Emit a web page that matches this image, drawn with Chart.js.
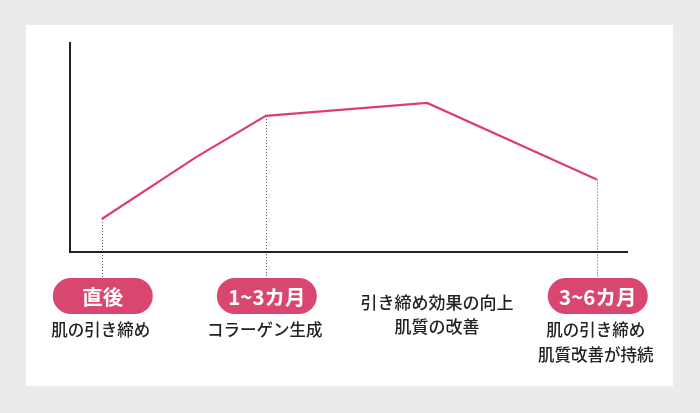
<!DOCTYPE html>
<html><head><meta charset="utf-8">
<script src="https://cdn.jsdelivr.net/npm/chart.js@4"></script>
<style>
html,body{margin:0;padding:0;background:#ebebeb;}
#wrap{width:700px;height:413px;position:relative;}
</style></head>
<body><div id="wrap"><canvas id="c" width="700" height="413"></canvas></div>
<script>
// time axis (arbitrary units) and effect level
const timeValues = [5.7, 22.6, 35.1, 64.0, 94.4];
const effectValues = [15.7, 45.2, 64.8, 71.0, 34.5];
// milestones: index of point, pill label, caption lines
const milestoneIndex = [0, 2, 4];
const pillLabels = ['直後', '1~3カ月', '3~6カ月'];
const captionLines = [['肌の引き締め'], ['コラーゲン生成'], ['肌の引き締め', '肌質改善が持続']];
const middleIndex = 3;
const middleLines = ['引き締め効果の向上', '肌質の改善'];

const FONT = '"Noto Sans CJK JP", "Noto Sans", sans-serif';
const PINK_LINE = '#dc3d72';
const PINK_PILL = '#d94670';

const deco = {
  id: 'deco',
  beforeDraw(chart) {
    const ctx = chart.ctx;
    ctx.save();
    ctx.fillStyle = '#ebebeb';
    ctx.fillRect(0, 0, chart.width, chart.height);
    ctx.fillStyle = '#ffffff';
    ctx.fillRect(26, 25, 647, 361);
    ctx.restore();
  },
  beforeDatasetsDraw(chart) {
    const ctx = chart.ctx, a = chart.chartArea;
    const xs = chart.scales.x, ys = chart.scales.y;
    ctx.save();
    ctx.strokeStyle = '#555';
    ctx.lineWidth = 1;
    ctx.setLineDash([1, 2]);
    milestoneIndex.forEach(i => {
      const px = Math.round(xs.getPixelForValue(timeValues[i])) + 0.5;
      const py = ys.getPixelForValue(effectValues[i]);
      ctx.beginPath(); ctx.moveTo(px, py); ctx.lineTo(px, a.bottom + 26); ctx.stroke();
    });
    ctx.setLineDash([]);
    ctx.strokeStyle = '#222';
    ctx.lineWidth = 2;
    ctx.beginPath();
    ctx.moveTo(a.left, a.top);
    ctx.lineTo(a.left, a.bottom);
    ctx.lineTo(a.right, a.bottom);
    ctx.stroke();
    ctx.restore();
  },
  afterDraw(chart) {
    const ctx = chart.ctx, a = chart.chartArea;
    const xs = chart.scales.x;
    ctx.save();
    ctx.textAlign = 'center';
    ctx.textBaseline = 'middle';
    milestoneIndex.forEach((i, k) => {
      const cx = xs.getPixelForValue(timeValues[i]) + 1;
      const w = 100, h = 36, top = a.bottom + 26;
      ctx.fillStyle = PINK_PILL;
      ctx.beginPath();
      ctx.roundRect(cx - w / 2, top, w, h, h / 2);
      ctx.fill();
      ctx.fillStyle = '#fff';
      ctx.font = 'bold 20.5px ' + FONT;
      ctx.fillText(pillLabels[k], cx, top + h / 2 + 1);
      ctx.fillStyle = '#222';
      ctx.font = '500 16.5px ' + FONT;
      captionLines[k].forEach((t, j) => {
        ctx.fillText(t, cx - 2, top + h + 16 + j * 25);
      });
    });
    const mx = xs.getPixelForValue(timeValues[middleIndex]) + 10;
    ctx.fillStyle = '#222';
    ctx.font = '500 17px ' + FONT;
    middleLines.forEach((t, j) => {
      ctx.fillText(t, mx, a.bottom + 51 + j * 24);
    });
    ctx.restore();
  }
};

new Chart(document.getElementById('c'), {
  type: 'line',
  data: {
    datasets: [{
      data: timeValues.map((t, i) => ({ x: t, y: effectValues[i] })),
      borderColor: PINK_LINE,
      borderWidth: 2.2,
      pointRadius: 0,
      tension: 0,
      fill: false
    }]
  },
  options: {
    responsive: false,
    animation: false,
    devicePixelRatio: 1,
    layout: { padding: { left: 70, right: 72, top: 42, bottom: 161 } },
    plugins: { legend: { display: false }, tooltip: { enabled: false } },
    scales: {
      x: { type: 'linear', min: 0, max: 100, display: false },
      y: { min: 0, max: 100, display: false }
    }
  },
  plugins: [deco]
});
</script>
</body></html>
